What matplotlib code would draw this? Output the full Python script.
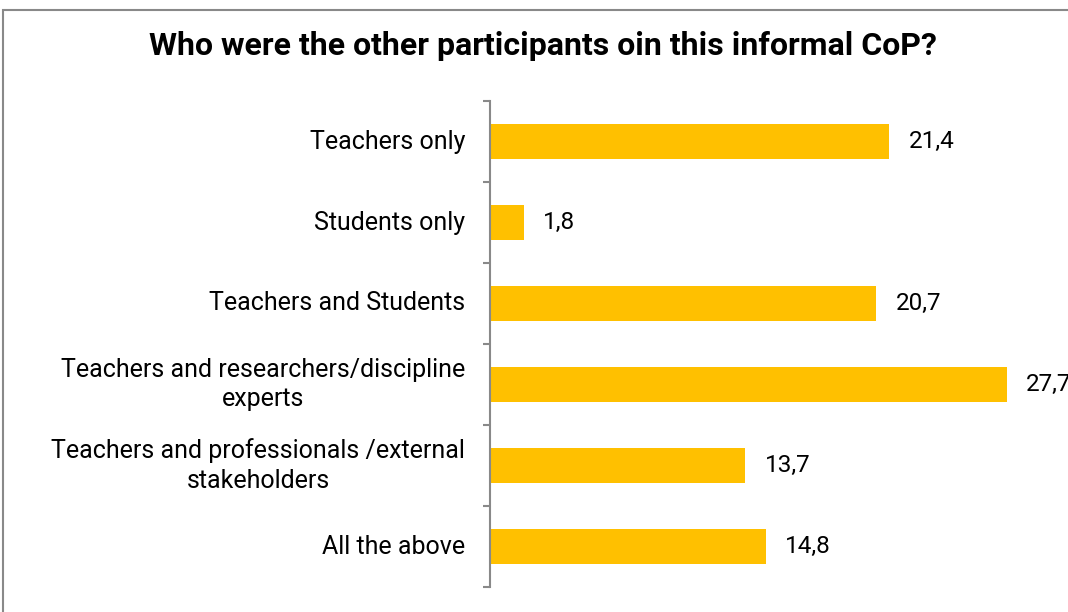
import matplotlib.pyplot as plt
from matplotlib.patches import Rectangle

categories = [
    "Teachers only",
    "Students only",
    "Teachers and Students",
    "Teachers and researchers/discipline\nexperts",
    "Teachers and professionals /external\nstakeholders",
    "All the above",
]
values = [21.4, 1.8, 20.7, 27.7, 13.7, 14.8]

title = "Who were the other participants oin this informal CoP?"
bar_color = "#FFC000"
axis_grey = "#898989"

plt.rcParams["font.family"] = ["Roboto", "DejaVu Sans"]

W, H = 1068, 612
fig = plt.figure(figsize=(W / 100, H / 100), dpi=100)

# plot area in pixel units: y axis at x=490, rows from y=101 to y=587
ax = fig.add_axes([490 / W, (H - 587) / H, 560 / W, 486 / H])

pos = list(range(len(categories)))
ax.barh(pos, values, height=0.42, color=bar_color)
ax.set_ylim(len(categories) - 0.5, -0.5)
ax.set_xlim(0, 30.03)

for y, v in zip(pos, values):
    ax.annotate(f"{v:.1f}".replace(".", ","), (v, y), xytext=(14, 0),
                textcoords="offset points", va="center", ha="left",
                fontsize=17.5, color="black", annotation_clip=False)

# category labels, centred on each row, right edge 25px left of the axis
for y, lab in zip(pos, categories):
    ax.annotate(lab, (0, y), xytext=(-18, 0), textcoords="offset points",
                ha="right", va="center", multialignment="center",
                fontsize=18, linespacing=1.3, color="black",
                annotation_clip=False)

# tick marks between categories
ax.set_yticks([p - 0.5 for p in pos] + [pos[-1] + 0.5])
ax.set_yticklabels([])
ax.tick_params(axis="y", length=5, width=1.5, color=axis_grey, direction="out")
ax.set_xticks([])

for side in ["top", "right", "bottom"]:
    ax.spines[side].set_visible(False)
ax.spines["left"].set_color(axis_grey)
ax.spines["left"].set_linewidth(1.5)

fig.text(543 / W, 1 - 46 / H, title, ha="center", va="center",
         fontsize=23, fontweight="bold", color="black")

# chart frame; only the top and left edges fall inside the image
fig.patches.append(Rectangle((3 / W, -0.1), 1.2, 1 - 10 / H + 0.1,
                             transform=fig.transFigure, fill=False,
                             edgecolor=axis_grey, linewidth=1.5))

fig.savefig("out.png", dpi=100)
